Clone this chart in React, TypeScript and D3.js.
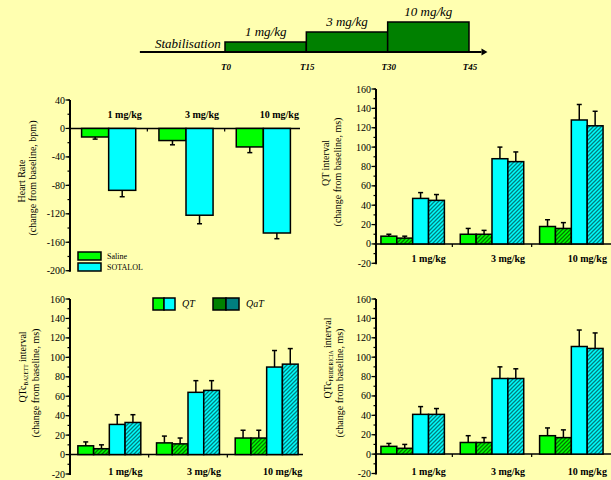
import * as d3 from "d3";

// dose groups and series
const doses = ["1 mg/kg", "3 mg/kg", "10 mg/kg"];
const hrSeries = ["Saline", "SOTALOL"];
const qtSeries = ["Saline QT", "Saline QaT", "SOTALOL QT", "SOTALOL QaT"];

// heart rate (bpm change), rows = dose, cols = series
const hrMeans = [[-12, -87], [-17, -122], [-26, -147]];
const hrErrors = [[3, 9], [6, 12], [8, 8]];
const hrTicks = [40, 0, -40, -80, -120, -160, -200];

// QT / QTc (ms change), cols = saline QT, saline QaT, sotalol QT, sotalol QaT
const qtMeans = [[8, 6, 47, 45], [10, 10, 88, 85], [18, 16, 128, 122]];
const qtErrors = [[2, 2, 6, 6], [6, 4, 12, 10], [7, 6, 16, 15]];
const bazettMeans = [[9, 6, 31, 33], [12, 11, 64, 66], [17, 17, 90, 93]];
const bazettErrors = [[4, 4, 10, 8], [7, 6, 12, 10], [8, 8, 17, 16]];
const fridMeans = [[8, 6, 41, 41], [12, 12, 78, 78], [19, 17, 111, 109]];
const fridErrors = [[3, 4, 8, 6], [7, 5, 12, 10], [8, 8, 17, 16]];
const msTicks = [-20, 0, 20, 40, 60, 80, 100, 120, 140, 160];

// dosing timeline
const timeLabels = ["T0", "T15", "T30", "T45"];
const timeMinutes = [0, 15, 30, 45];

const serif = "'Liberation Serif', 'Times New Roman', serif";
const BG = "#ffffb0";
const GREEN = "#00ff00";
const CYAN = "#00ffff";
const DARK_GREEN = "#007a00";
const TEAL = "#007f7f";

function Panel({ axisX, band, pad, yDomain, yRange, ticks, means, errors, fills, labelY, lineEnd }) {
  const x = d3.scaleBand().domain(doses).range(band).paddingInner(pad[0]).paddingOuter(pad[1]);
  const xs = d3.scaleBand().domain(d3.range(means[0].length)).range([0, x.bandwidth()]);
  const y = d3.scaleLinear().domain(yDomain).range(yRange);
  const step = Math.abs(ticks[1] - ticks[0]) / 2;
  const minor = d3.range(d3.min(yDomain), d3.max(yDomain) + 0.1, step);
  const y0 = y(0);

  return (
    <g>
      {/* zero line + group ticks */}
      <line x1={axisX} x2={lineEnd} y1={y0} y2={y0} stroke="#000" strokeWidth={1.5} />
      {doses.slice(1).map((d) => {
        const bx = x(d) - (x.step() * pad[0]) / 2;
        return <line key={d} x1={bx} x2={bx} y1={y0} y2={y0 + 3} stroke="#000" strokeWidth={1.2} />;
      })}

      {/* bars */}
      {doses.map((d, i) =>
        means[i].map((v, j) => {
          const bx = x(d) + xs(j);
          const bw = xs.bandwidth();
          const cx = bx + bw / 2;
          const tip = v + Math.sign(v) * errors[i][j];
          return (
            <g key={d + j}>
              <line x1={cx} x2={cx} y1={y(v)} y2={y(tip)} stroke="#000" strokeWidth={1.5} />
              <line x1={cx - 2.5} x2={cx + 2.5} y1={y(tip)} y2={y(tip)} stroke="#000" strokeWidth={1.5} />
              <rect
                x={bx}
                y={Math.min(y(v), y0)}
                width={bw}
                height={Math.abs(y(v) - y0)}
                fill={fills[j]}
                stroke="#000"
                strokeWidth={1.5}
              />
            </g>
          );
        })
      )}

      {/* y axis */}
      <line x1={axisX} x2={axisX} y1={y(d3.max(yDomain))} y2={y(d3.min(yDomain)) + 1} stroke="#000" strokeWidth={2} />
      {minor.map((t) => (
        <line key={"m" + t} x1={axisX - 2.5} x2={axisX} y1={y(t)} y2={y(t)} stroke="#000" strokeWidth={1.2} />
      ))}
      {ticks.map((t) => (
        <g key={t}>
          <line x1={axisX - 4.5} x2={axisX} y1={y(t)} y2={y(t)} stroke="#000" strokeWidth={1.2} />
          <text x={axisX - 5} y={y(t) + 3.5} textAnchor="end" fontSize={10} fontFamily={serif} fill="#000">
            {t}
          </text>
        </g>
      ))}

      {/* dose labels */}
      {doses.map((d) => (
        <text
          key={d}
          x={x(d) + x.bandwidth() / 2 + 16}
          y={labelY}
          textAnchor="middle"
          fontSize={10}
          fontWeight="bold"
          fontFamily={serif}
          fill="#000"
        >
          {d}
        </text>
      ))}
    </g>
  );
}

function YLabel({ x1, y1, x2, y2, main, sub, after, second }) {
  return (
    <g fontFamily={serif} fontSize={10} fill="#000" textAnchor="middle">
      <text transform={`translate(${x1},${y1}) rotate(-90)`}>
        {main}
        {sub && (
          <tspan fontSize={5.5} dy={2}>
            {sub}
          </tspan>
        )}
        {after && <tspan dy={sub ? -2 : 0}>{after}</tspan>}
      </text>
      <text transform={`translate(${x2},${y2}) rotate(-90)`}>{second}</text>
    </g>
  );
}

function Timeline() {
  const tx = d3.scaleLinear().domain([0, 45]).range([225, 469]);
  const ty = d3.scaleLinear().domain([0, 3]).range([52, 22]);
  const lineEnd = tx(47.3);
  return (
    <g fontFamily={serif} fontStyle="italic" fill="#000">
      {doses.map((d, i) => (
        <g key={d}>
          <rect
            x={tx(timeMinutes[i])}
            y={ty(i + 1)}
            width={tx(timeMinutes[i + 1]) - tx(timeMinutes[i])}
            height={ty(0) - ty(i + 1)}
            fill="#008000"
            stroke="#000"
            strokeWidth={1.5}
          />
          <text x={(tx(timeMinutes[i]) + tx(timeMinutes[i + 1])) / 2} y={ty(i + 1) - 6} textAnchor="middle" fontSize={13}>
            {d}
          </text>
        </g>
      ))}
      <line x1={tx(-15.7)} x2={lineEnd} y1={ty(0)} y2={ty(0)} stroke="#000" strokeWidth={1.8} />
      <path d={`M${lineEnd},${ty(0) - 3.5} L${lineEnd + 6},${ty(0)} L${lineEnd},${ty(0) + 3.5} Z`} fill="#000" />
      <text x={tx(-0.8)} y={ty(0) - 4} textAnchor="end" fontSize={13}>
        Stabilisation
      </text>
      {timeLabels.map((t, i) => (
        <text key={t} x={tx(timeMinutes[i]) + 1} y={70} textAnchor="middle" fontSize={9} fontWeight="bold">
          {t}
        </text>
      ))}
    </g>
  );
}

export default function App() {
  const hrFills = [GREEN, CYAN];
  const qtFills = [GREEN, "url(#hatchGreen)", CYAN, "url(#hatchCyan)"];
  return (
    <svg width={611} height={480} style={{ position: "absolute", left: 0, top: 0 }}>
      <defs>
        <pattern id="hatchGreen" patternUnits="userSpaceOnUse" width={4} height={4}>
          <rect width={4} height={4} fill={GREEN} />
          <path d="M-1,1 l2,-2 M0,4 l4,-4 M3,5 l2,-2" stroke={DARK_GREEN} strokeWidth={1.3} />
        </pattern>
        <pattern id="hatchCyan" patternUnits="userSpaceOnUse" width={4} height={4}>
          <rect width={4} height={4} fill={CYAN} />
          <path d="M-1,1 l2,-2 M0,4 l4,-4 M3,5 l2,-2" stroke={TEAL} strokeWidth={1.3} />
        </pattern>
      </defs>
      <rect width={611} height={480} fill={BG} />

      <Timeline />

      {/* Heart rate */}
      <Panel
        axisX={70}
        band={[70, 302]}
        pad={[0.3, 0.15]}
        yDomain={[-200, 40]}
        yRange={[270.7, 100]}
        ticks={hrTicks}
        means={hrMeans}
        errors={hrErrors}
        fills={hrFills}
        labelY={118}
        lineEnd={300}
      />
      <YLabel x1={25} y1={181} x2={36} y2={178} main="Heart Rate" second="(change from baseline, bpm)" />
      <g fontFamily={serif} fontSize={8} fill="#000">
        {hrSeries.map((s, i) => (
          <g key={s}>
            <rect x={78} y={252 + i * 11} width={23} height={8} fill={hrFills[i]} stroke="#000" strokeWidth={1.5} />
            <text x={107} y={259 + i * 11}>
              {s}
            </text>
          </g>
        ))}
      </g>

      {/* QT interval */}
      <Panel
        axisX={376}
        band={[373, 611]}
        pad={[0.2, 0.1]}
        yDomain={[-20, 160]}
        yRange={[263.3, 89]}
        ticks={msTicks}
        means={qtMeans}
        errors={qtErrors}
        fills={qtFills}
        labelY={262}
        lineEnd={611}
      />
      <YLabel x1={329} y1={163} x2={341} y2={172} main="QT interval" second="(change from baseline, ms)" />

      {/* QTc Bazett */}
      <Panel
        axisX={70}
        band={[70, 306]}
        pad={[0.2, 0.1]}
        yDomain={[-20, 160]}
        yRange={[474, 299]}
        ticks={msTicks}
        means={bazettMeans}
        errors={bazettErrors}
        fills={qtFills}
        labelY={475}
        lineEnd={303}
      />
      <YLabel x1={26} y1={367} x2={39} y2={383} main="QTc" sub="BAZETT" after=" interval" second="(change from baseline, ms)" />
      <g fontFamily={serif} fontSize={10} fontStyle="italic" fill="#000">
        <rect x={153} y={298} width={11} height={12} fill={GREEN} stroke="#000" strokeWidth={1.5} />
        <rect x={164} y={298} width={11} height={12} fill={CYAN} stroke="#000" strokeWidth={1.5} />
        <text x={182} y={307}>{qtSeries[0].split(" ")[1]}</text>
        <rect x={213} y={298} width={13} height={12} fill="#008000" stroke="#000" strokeWidth={1.5} />
        <rect x={226} y={298} width={13} height={12} fill={TEAL} stroke="#000" strokeWidth={1.5} />
        <text x={246} y={307}>{qtSeries[1].split(" ")[1]}</text>
      </g>

      {/* QTc Fridericia */}
      <Panel
        axisX={376}
        band={[373, 611]}
        pad={[0.2, 0.1]}
        yDomain={[-20, 160]}
        yRange={[473.5, 299]}
        ticks={msTicks}
        means={fridMeans}
        errors={fridErrors}
        fills={qtFills}
        labelY={475}
        lineEnd={611}
      />
      <YLabel x1={331} y1={358} x2={343} y2={383} main="QTc" sub="FRIDERICIA" after=" interval" second="(change from baseline, ms)" />
    </svg>
  );
}
